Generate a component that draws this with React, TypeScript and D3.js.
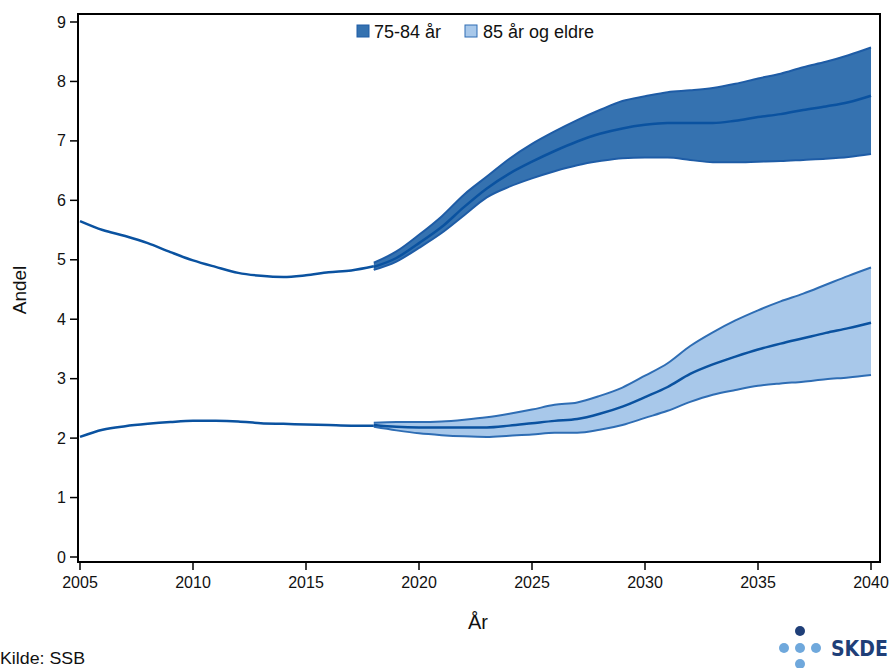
import React from "react";
import * as d3 from "d3";

const histYears = [2005, 2006, 2007, 2008, 2009, 2010, 2011, 2012, 2013, 2014, 2015, 2016, 2017, 2018];
const hist7584 = [5.65, 5.5, 5.4, 5.28, 5.13, 4.99, 4.88, 4.78, 4.73, 4.71, 4.74, 4.79, 4.82, 4.89];
const hist85 = [2.02, 2.14, 2.2, 2.24, 2.27, 2.29, 2.29, 2.28, 2.25, 2.24, 2.23, 2.22, 2.21, 2.21];

const projYears = [2018, 2019, 2020, 2021, 2022, 2023, 2024, 2025, 2026, 2027, 2028, 2029, 2030, 2031, 2032, 2033, 2034, 2035, 2036, 2037, 2038, 2039, 2040];
const high7584 = [4.95, 5.14, 5.42, 5.73, 6.1, 6.4, 6.7, 6.95, 7.16, 7.35, 7.52, 7.67, 7.75, 7.82, 7.85, 7.89, 7.96, 8.05, 8.13, 8.24, 8.33, 8.44, 8.57];
const mid7584 = [4.88, 5.03, 5.28, 5.55, 5.89, 6.2, 6.45, 6.65, 6.83, 6.99, 7.12, 7.21, 7.27, 7.3, 7.3, 7.3, 7.34, 7.4, 7.45, 7.52, 7.58, 7.65, 7.76];
const low7584 = [4.83, 4.97, 5.2, 5.45, 5.75, 6.05, 6.23, 6.37, 6.49, 6.59, 6.66, 6.71, 6.72, 6.72, 6.68, 6.64, 6.64, 6.65, 6.66, 6.68, 6.7, 6.73, 6.78];
const high85 = [2.26, 2.27, 2.27, 2.28, 2.31, 2.35, 2.41, 2.48, 2.56, 2.6, 2.71, 2.85, 3.05, 3.26, 3.55, 3.78, 3.98, 4.15, 4.3, 4.43, 4.58, 4.73, 4.87];
const mid85 = [2.22, 2.19, 2.18, 2.18, 2.18, 2.18, 2.21, 2.25, 2.29, 2.32, 2.41, 2.53, 2.69, 2.86, 3.08, 3.24, 3.37, 3.49, 3.59, 3.68, 3.77, 3.85, 3.94];
const low85 = [2.19, 2.13, 2.08, 2.05, 2.03, 2.02, 2.04, 2.06, 2.09, 2.09, 2.14, 2.22, 2.34, 2.46, 2.61, 2.73, 2.81, 2.88, 2.92, 2.95, 2.99, 3.02, 3.06];

const xTicks = [2005, 2010, 2015, 2020, 2025, 2030, 2035, 2040];
const yTicks = [0, 1, 2, 3, 4, 5, 6, 7, 8, 9];
const legendLabels = ["75-84 år", "85 år og eldre"];

const DARK_FILL = "#3572b0";
const LIGHT_FILL = "#a8c8ea";
const EDGE_DARK = "#1e5ca6";
const EDGE_LIGHT = "#2e6db4";
const LINE = "#0a52a0";
const FONT = "Liberation Sans, Arial, sans-serif";

export default function App() {
  const x = d3.scaleLinear().domain([2005, 2040]).range([80, 871]);
  const y = d3.scaleLinear().domain([0, 9]).range([557, 22]);
  const frame = { left: 78, right: 880, top: 14, bottom: 562 };

  const line = d3
    .line<[number, number]>()
    .x((d) => x(d[0]))
    .y((d) => y(d[1]))
    .curve(d3.curveMonotoneX);
  const area = d3
    .area<[number, number, number]>()
    .x((d) => x(d[0]))
    .y0((d) => y(d[1]))
    .y1((d) => y(d[2]))
    .curve(d3.curveMonotoneX);

  const zip = (xs: number[], ys: number[]) => xs.map((v, i) => [v, ys[i]] as [number, number]);
  const zip3 = (xs: number[], a: number[], b: number[]) =>
    xs.map((v, i) => [v, a[i], b[i]] as [number, number, number]);

  const bands = [
    { high: high7584, mid: mid7584, low: low7584, hist: hist7584, fill: DARK_FILL, edge: EDGE_DARK },
    { high: high85, mid: mid85, low: low85, hist: hist85, fill: LIGHT_FILL, edge: EDGE_LIGHT },
  ];

  return (
    <svg width={893} height={668} style={{ position: "absolute", left: 0, top: 0, background: "#fff" }} fontFamily={FONT}>
      <rect x={0} y={0} width={893} height={668} fill="#fff" />
      {bands.map((b, i) => (
        <g key={i}>
          <path d={area(zip3(projYears, b.low, b.high)) || ""} fill={b.fill} stroke="none" />
          <path d={line(zip(projYears, b.high)) || ""} fill="none" stroke={b.edge} strokeWidth={2} />
          <path d={line(zip(projYears, b.low)) || ""} fill="none" stroke={b.edge} strokeWidth={2} />
          <path d={line(zip(projYears, b.mid)) || ""} fill="none" stroke={LINE} strokeWidth={2.5} />
          <path d={line(zip(histYears, b.hist)) || ""} fill="none" stroke={LINE} strokeWidth={2.5} />
        </g>
      ))}
      <rect
        x={frame.left}
        y={frame.top}
        width={frame.right - frame.left}
        height={frame.bottom - frame.top}
        fill="none"
        stroke="#000"
        strokeWidth={2}
      />
      {yTicks.map((t) => (
        <g key={t}>
          <line x1={frame.left - 8} x2={frame.left} y1={y(t)} y2={y(t)} stroke="#000" strokeWidth={1.5} />
          <text x={frame.left - 12} y={y(t)} dy="0.35em" textAnchor="end" fontSize={16} fill="#111">
            {t}
          </text>
        </g>
      ))}
      {xTicks.map((t) => (
        <g key={t}>
          <line x1={x(t)} x2={x(t)} y1={frame.bottom} y2={frame.bottom + 8} stroke="#000" strokeWidth={1.5} />
          <text x={x(t)} y={frame.bottom + 26} textAnchor="middle" fontSize={16} fill="#111">
            {t}
          </text>
        </g>
      ))}
      <text x={478} y={629} textAnchor="middle" fontSize={20} fill="#111">
        År
      </text>
      <text transform="translate(26,290) rotate(-90)" textAnchor="middle" fontSize={19} fill="#111">
        Andel
      </text>
      <text x={0} y={664} fontSize={16} fill="#111" textLength={85} lengthAdjust="spacingAndGlyphs">
        Kilde: SSB
      </text>
      {/* legend */}
      <rect x={357} y={25} width={12} height={12} fill={DARK_FILL} stroke={EDGE_DARK} strokeWidth={1} />
      <text x={374} y={38} fontSize={18} fill="#111">
        {legendLabels[0]}
      </text>
      <rect x={465} y={25} width={12} height={12} fill={LIGHT_FILL} stroke={EDGE_LIGHT} strokeWidth={1} />
      <text x={483} y={38} fontSize={18} fill="#111">
        {legendLabels[1]}
      </text>
      {/* logo */}
      <g>
        <circle cx={800} cy={631} r={5} fill="#1f3f78" />
        <circle cx={784} cy={648} r={5} fill="#6fa8dc" />
        <circle cx={800} cy={648} r={5} fill="#6fa8dc" />
        <circle cx={816} cy={648} r={5} fill="#6fa8dc" />
        <circle cx={800} cy={664} r={5} fill="#6fa8dc" />
        <text x={831} y={656} fontSize={21} fontWeight="bold" fill="#1f3f78" fontFamily="DejaVu Sans Condensed, Liberation Sans Narrow, sans-serif">
          SKDE
        </text>
      </g>
    </svg>
  );
}
